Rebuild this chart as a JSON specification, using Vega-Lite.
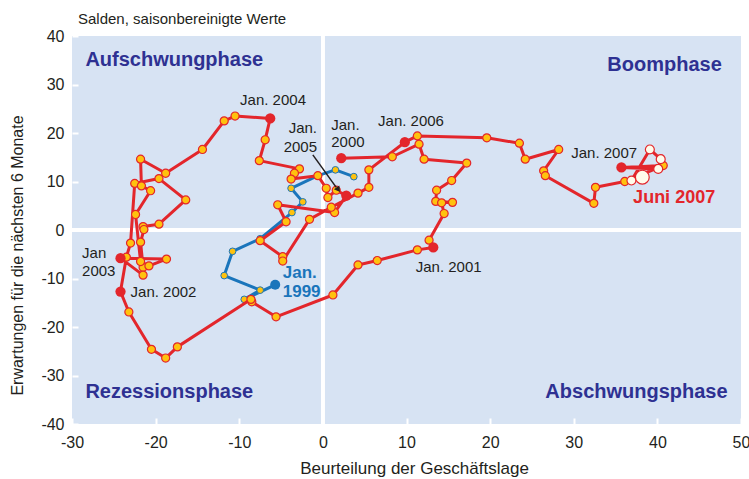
{
 "$schema": "https://vega.github.io/schema/vega-lite/v6.json",
 "width": 669, "height": 388,
 "autosize": {"type": "none"},
 "padding": {"left": 72, "top": 36, "right": 8, "bottom": 55},
 "background": "#FFFFFF",
 "config": {"view": {"fill": "#D7E3F3", "stroke": null}, "font": "Liberation Sans"},
 "title": {"text": "Salden, saisonbereinigte Werte", "anchor": "start", "frame": "group", "dx": 6, "dy": 24, "offset": 10, "fontSize": 15, "fontWeight": "normal", "font": "Liberation Sans", "color": "#231F20", "baseline": "bottom"},
 "datasets": {
  "pts": [
   {"s":"b","t":0,"x":-5.7,"y":-11.3,"k":"j"},
   {"s":"b","t":1,"x":-9.4,"y":-14.3,"k":"n"},
   {"s":"b","t":2,"x":-7.5,"y":-12.4,"k":"n"},
   {"s":"b","t":3,"x":-11.8,"y":-9.4,"k":"n"},
   {"s":"b","t":4,"x":-10.8,"y":-4.4,"k":"n"},
   {"s":"b","t":5,"x":-7.5,"y":-1.8,"k":"n"},
   {"s":"b","t":6,"x":-3.7,"y":3.6,"k":"n"},
   {"s":"b","t":7,"x":-2.4,"y":5.8,"k":"n"},
   {"s":"b","t":8,"x":-3.8,"y":8.6,"k":"n"},
   {"s":"b","t":9,"x":-0.6,"y":11.2,"k":"n"},
   {"s":"b","t":10,"x":1.5,"y":12.4,"k":"n"},
   {"s":"b","t":11,"x":3.7,"y":11.0,"k":"n"},
   {"s":"r","t":12,"x":2.2,"y":14.8,"k":"j"},
   {"s":"r","t":13,"x":8.3,"y":15.1,"k":"n"},
   {"s":"r","t":14,"x":11.5,"y":17.7,"k":"n"},
   {"s":"r","t":15,"x":12.1,"y":14.6,"k":"n"},
   {"s":"r","t":16,"x":17.2,"y":13.8,"k":"n"},
   {"s":"r","t":17,"x":15.4,"y":10.2,"k":"n"},
   {"s":"r","t":18,"x":13.6,"y":8.2,"k":"n"},
   {"s":"r","t":19,"x":13.5,"y":5.9,"k":"n"},
   {"s":"r","t":20,"x":15.5,"y":5.7,"k":"n"},
   {"s":"r","t":21,"x":14.2,"y":5.6,"k":"n"},
   {"s":"r","t":22,"x":14.5,"y":3.4,"k":"n"},
   {"s":"r","t":23,"x":12.7,"y":-2.1,"k":"n"},
   {"s":"r","t":24,"x":13.2,"y":-3.6,"k":"j"},
   {"s":"r","t":25,"x":11.3,"y":-4.1,"k":"n"},
   {"s":"r","t":26,"x":6.5,"y":-6.3,"k":"n"},
   {"s":"r","t":27,"x":4.2,"y":-7.2,"k":"n"},
   {"s":"r","t":28,"x":1.2,"y":-13.4,"k":"n"},
   {"s":"r","t":29,"x":-5.6,"y":-17.9,"k":"n"},
   {"s":"r","t":30,"x":-8.5,"y":-14.8,"k":"n"},
   {"s":"r","t":31,"x":-8.6,"y":-14.3,"k":"n"},
   {"s":"r","t":32,"x":-17.4,"y":-24.1,"k":"n"},
   {"s":"r","t":33,"x":-18.8,"y":-26.4,"k":"n"},
   {"s":"r","t":34,"x":-20.5,"y":-24.6,"k":"n"},
   {"s":"r","t":35,"x":-23.2,"y":-16.9,"k":"n"},
   {"s":"r","t":36,"x":-24.2,"y":-12.7,"k":"j"},
   {"s":"r","t":37,"x":-23.5,"y":-5.6,"k":"n"},
   {"s":"r","t":38,"x":-23.0,"y":-2.7,"k":"n"},
   {"s":"r","t":39,"x":-22.5,"y":9.6,"k":"n"},
   {"s":"r","t":40,"x":-19.6,"y":10.6,"k":"n"},
   {"s":"r","t":41,"x":-16.4,"y":6.2,"k":"n"},
   {"s":"r","t":42,"x":-19.6,"y":1.2,"k":"n"},
   {"s":"r","t":43,"x":-21.5,"y":0.7,"k":"n"},
   {"s":"r","t":44,"x":-21.4,"y":0.1,"k":"n"},
   {"s":"r","t":45,"x":-21.8,"y":-2.5,"k":"n"},
   {"s":"r","t":46,"x":-21.5,"y":-7.7,"k":"n"},
   {"s":"r","t":47,"x":-21.5,"y":-9.3,"k":"n"},
   {"s":"r","t":48,"x":-24.2,"y":-5.8,"k":"j"},
   {"s":"r","t":49,"x":-18.7,"y":-6.0,"k":"n"},
   {"s":"r","t":50,"x":-20.8,"y":-7.4,"k":"n"},
   {"s":"r","t":51,"x":-21.8,"y":-6.5,"k":"n"},
   {"s":"r","t":52,"x":-22.4,"y":3.2,"k":"n"},
   {"s":"r","t":53,"x":-20.6,"y":8.1,"k":"n"},
   {"s":"r","t":54,"x":-21.7,"y":9.1,"k":"n"},
   {"s":"r","t":55,"x":-21.8,"y":14.6,"k":"n"},
   {"s":"r","t":56,"x":-18.8,"y":11.7,"k":"n"},
   {"s":"r","t":57,"x":-14.4,"y":16.6,"k":"n"},
   {"s":"r","t":58,"x":-11.8,"y":22.5,"k":"n"},
   {"s":"r","t":59,"x":-10.5,"y":23.5,"k":"n"},
   {"s":"r","t":60,"x":-6.3,"y":23.0,"k":"j"},
   {"s":"r","t":61,"x":-6.9,"y":18.6,"k":"n"},
   {"s":"r","t":62,"x":-7.6,"y":14.3,"k":"n"},
   {"s":"r","t":63,"x":-2.8,"y":12.6,"k":"n"},
   {"s":"r","t":64,"x":-3.4,"y":11.7,"k":"n"},
   {"s":"r","t":65,"x":-3.8,"y":10.5,"k":"n"},
   {"s":"r","t":66,"x":-0.6,"y":11.2,"k":"n"},
   {"s":"r","t":67,"x":0.4,"y":8.6,"k":"n"},
   {"s":"r","t":68,"x":0.6,"y":6.7,"k":"n"},
   {"s":"r","t":69,"x":1.6,"y":8.2,"k":"n"},
   {"s":"r","t":70,"x":2.8,"y":7.1,"k":"j"},
   {"s":"r","t":71,"x":1.4,"y":3.6,"k":"n"},
   {"s":"r","t":72,"x":-5.4,"y":5.2,"k":"n"},
   {"s":"r","t":73,"x":-4.4,"y":1.7,"k":"n"},
   {"s":"r","t":74,"x":-7.5,"y":-2.2,"k":"n"},
   {"s":"r","t":75,"x":-4.8,"y":-5.5,"k":"n"},
   {"s":"r","t":76,"x":-4.8,"y":-6.4,"k":"n"},
   {"s":"r","t":77,"x":-1.6,"y":2.2,"k":"n"},
   {"s":"r","t":78,"x":1.0,"y":4.7,"k":"n"},
   {"s":"r","t":79,"x":4.2,"y":7.6,"k":"n"},
   {"s":"r","t":80,"x":5.5,"y":8.8,"k":"n"},
   {"s":"r","t":81,"x":5.5,"y":12.4,"k":"n"},
   {"s":"r","t":82,"x":9.8,"y":18.1,"k":"j"},
   {"s":"r","t":83,"x":11.3,"y":19.4,"k":"n"},
   {"s":"r","t":84,"x":19.6,"y":19.0,"k":"n"},
   {"s":"r","t":85,"x":23.5,"y":17.9,"k":"n"},
   {"s":"r","t":86,"x":24.2,"y":14.6,"k":"n"},
   {"s":"r","t":87,"x":28.2,"y":16.6,"k":"n"},
   {"s":"r","t":88,"x":26.4,"y":12.2,"k":"n"},
   {"s":"r","t":89,"x":26.6,"y":11.2,"k":"n"},
   {"s":"r","t":90,"x":32.4,"y":5.5,"k":"n"},
   {"s":"r","t":91,"x":32.6,"y":8.8,"k":"n"},
   {"s":"r","t":92,"x":36.1,"y":10.0,"k":"n"},
   {"s":"r","t":93,"x":40.7,"y":13.3,"k":"n"},
   {"s":"r","t":94,"x":35.7,"y":12.9,"k":"j"},
   {"s":"r","t":95,"x":40.1,"y":12.6,"k":"w"},
   {"s":"r","t":96,"x":40.4,"y":14.6,"k":"w"},
   {"s":"r","t":97,"x":39.1,"y":16.6,"k":"w"},
   {"s":"r","t":98,"x":36.9,"y":10.2,"k":"w"},
   {"s":"r","t":99,"x":38.2,"y":10.9,"k":"W"}
  ],
  "phaseL": [
   {"x":-28.4,"y":35.0,"label":"Aufschwungphase"},
   {"x":-28.4,"y":-33.4,"label":"Rezessionsphase"}
  ],
  "phaseR": [
   {"x":47.7,"y":34.0,"label":"Boomphase"},
   {"x":48.4,"y":-33.4,"label":"Abschwungsphase"}
  ],
  "annL": [
   {"x":-9.9,"y":26.8,"label":"Jan. 2004"},
   {"x":1.0,"y":21.6,"label":"Jan."},
   {"x":1.0,"y":18.1,"label":"2000"},
   {"x":6.6,"y":22.5,"label":"Jan. 2006"},
   {"x":29.7,"y":15.9,"label":"Jan. 2007"},
   {"x":-28.8,"y":-4.7,"label":"Jan"},
   {"x":-28.8,"y":-8.45,"label":"2003"},
   {"x":-23.0,"y":-12.8,"label":"Jan. 2002"},
   {"x":11.1,"y":-7.6,"label":"Jan. 2001"}
  ],
  "annR": [
   {"x":-0.7,"y":21.0,"label":"Jan."},
   {"x":-0.7,"y":17.1,"label":"2005"}
  ],
  "annBlue": [
   {"x":-4.8,"y":-8.9,"label":"Jan."},
   {"x":-4.8,"y":-12.7,"label":"1999"}
  ],
  "annRed": [
   {"x":37.1,"y":6.6,"label":"Juni 2007"}
  ],
  "arrow": [
   {"x":-1.2,"y":15.5,"x2":1.6,"y2":8.8}
  ],
  "arrowHead": [
   {"x":1.85,"y":8.3}
  ]
 },
 "data": {"name": "pts"},
 "encoding": {
  "x": {"field": "x", "type": "quantitative", "scale": {"domain": [-30, 50], "nice": false, "zero": false},
   "axis": {"title": "Beurteilung der Geschäftslage", "values": [-30,-20,-10,0,10,20,30,40,50], "labelExpr": "toString(datum.value)", "grid": false, "domain": false,
    "tickColor": "#FFFFFF", "tickSize": -6, "tickWidth": 2, "labelFontSize": 16, "labelColor": "#231F20", "labelPadding": 16,
    "labelFlush": false, "labelOverlap": false, "labelFont": "Liberation Sans", "titleFont": "Liberation Sans", "titleFontSize": 17,
    "titleFontWeight": "normal", "titleColor": "#231F20", "titleX": 342, "titleY": 44, "titleAlign": "center", "titleBaseline": "middle"}},
  "y": {"field": "y", "type": "quantitative", "scale": {"domain": [-40, 40], "nice": false, "zero": false},
   "axis": {"title": "Erwartungen für die nächsten 6 Monate", "values": [-40,-30,-20,-10,0,10,20,30,40], "labelExpr": "toString(datum.value)", "grid": false, "domain": false,
    "tickColor": "#FFFFFF", "tickSize": -6, "tickWidth": 2, "labelFontSize": 16, "labelColor": "#231F20", "labelPadding": 14,
    "labelFlush": false, "labelOverlap": false, "labelFont": "Liberation Sans", "titleFont": "Liberation Sans", "titleFontSize": 16,
    "titleFontWeight": "normal", "titleColor": "#231F20", "titleX": -55, "titleY": 219, "titleAngle": -90, "titleAlign": "center", "titleBaseline": "middle"}}
 },
 "layer": [
  {"mark": {"type": "rule", "color": "#FFFFFF", "strokeWidth": 3},
   "encoding": {"x": {"datum": 0}, "y": {"datum": -40}, "y2": {"datum": 40}}},
  {"mark": {"type": "rule", "color": "#FFFFFF", "strokeWidth": 3},
   "encoding": {"y": {"datum": 0}, "x": {"datum": -30}, "x2": {"datum": 50}}},
  {"transform": [{"filter": "datum.s == 'b'"}],
   "mark": {"type": "line", "color": "#1A75BB", "strokeWidth": 3, "strokeJoin": "round"},
   "encoding": {"order": {"field": "t", "type": "quantitative"}}},
  {"transform": [{"filter": "datum.s == 'b' && datum.k == 'n'"}],
   "mark": {"type": "circle", "fill": "#FFC20E", "stroke": "#1A75BB", "strokeWidth": 1, "size": 45, "opacity": 1}},
  {"transform": [{"filter": "datum.s == 'b' && datum.k == 'j'"}],
   "mark": {"type": "circle", "fill": "#1A75BB", "size": 100, "opacity": 1}},
  {"transform": [{"filter": "datum.s == 'r'"}],
   "mark": {"type": "line", "color": "#E3262B", "strokeWidth": 3, "strokeJoin": "round"},
   "encoding": {"order": {"field": "t", "type": "quantitative"}}},
  {"transform": [{"filter": "datum.s == 'r' && datum.k == 'n'"}],
   "mark": {"type": "circle", "fill": "#FFC20E", "stroke": "#E3262B", "strokeWidth": 1.2, "size": 65, "opacity": 1}},
  {"transform": [{"filter": "datum.s == 'r' && datum.k == 'j'"}],
   "mark": {"type": "circle", "fill": "#E3262B", "size": 105, "opacity": 1}},
  {"transform": [{"filter": "datum.k == 'w'"}],
   "mark": {"type": "circle", "fill": "#FFFBEA", "stroke": "#E3262B", "strokeWidth": 1.2, "size": 80, "opacity": 1}},
  {"transform": [{"filter": "datum.k == 'W'"}],
   "mark": {"type": "circle", "fill": "#FFFBEA", "stroke": "#E3262B", "strokeWidth": 1.2, "size": 190, "opacity": 1}},
  {"data": {"name": "arrow"},
   "mark": {"type": "rule", "color": "#231F20", "strokeWidth": 1.5},
   "encoding": {"x2": {"field": "x2"}, "y2": {"field": "y2"}}},
  {"data": {"name": "arrowHead"},
   "mark": {"type": "point", "shape": "triangle-up", "filled": true, "color": "#231F20", "size": 45, "angle": 144, "opacity": 1}},
  {"data": {"name": "phaseL"},
   "mark": {"type": "text", "align": "left", "baseline": "middle", "fontSize": 20, "fontWeight": "bold", "color": "#2E3192", "font": "Liberation Sans"},
   "encoding": {"text": {"field": "label"}}},
  {"data": {"name": "phaseR"},
   "mark": {"type": "text", "align": "right", "baseline": "middle", "fontSize": 20, "fontWeight": "bold", "color": "#2E3192", "font": "Liberation Sans"},
   "encoding": {"text": {"field": "label"}}},
  {"data": {"name": "annL"},
   "mark": {"type": "text", "align": "left", "baseline": "middle", "fontSize": 15, "color": "#231F20", "font": "Liberation Sans"},
   "encoding": {"text": {"field": "label"}}},
  {"data": {"name": "annR"},
   "mark": {"type": "text", "align": "right", "baseline": "middle", "fontSize": 15, "color": "#231F20", "font": "Liberation Sans"},
   "encoding": {"text": {"field": "label"}}},
  {"data": {"name": "annBlue"},
   "mark": {"type": "text", "align": "left", "baseline": "middle", "fontSize": 17, "fontWeight": "bold", "color": "#1A75BB", "font": "Liberation Sans"},
   "encoding": {"text": {"field": "label"}}},
  {"data": {"name": "annRed"},
   "mark": {"type": "text", "align": "left", "baseline": "middle", "fontSize": 18, "fontWeight": "bold", "color": "#E3262B", "font": "Liberation Sans"},
   "encoding": {"text": {"field": "label"}}}
 ]
}
